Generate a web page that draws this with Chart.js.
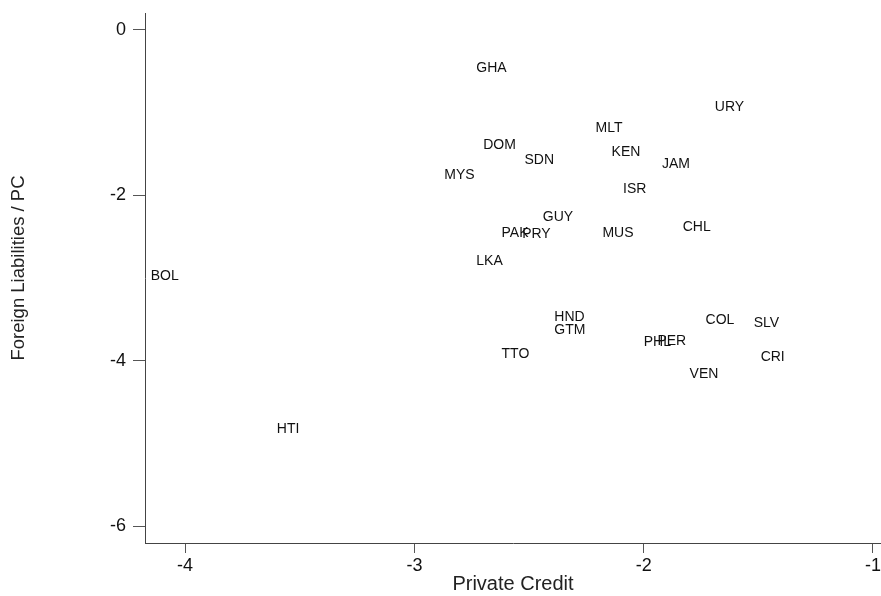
<!DOCTYPE html>
<html>
<head>
<meta charset="utf-8">
<script src="https://cdn.jsdelivr.net/npm/chart.js@4/dist/chart.umd.min.js"></script>
<style>
html,body{margin:0;padding:0;background:#fff;}
#wrap{width:881px;height:596px;position:relative;}
</style>
</head>
<body>
<div id="wrap"><canvas id="c" width="881" height="596"></canvas></div>
<script>
const countries = ["GHA","URY","MLT","DOM","SDN","KEN","JAM","MYS","ISR","GUY","PAK","PRY","MUS","CHL","LKA","BOL","HND","GTM","TTO","PHL","PER","COL","SLV","CRI","VEN","HTI"];
const privateCredit = [-2.73,-1.69,-2.21,-2.70,-2.52,-2.14,-1.92,-2.87,-2.09,-2.44,-2.62,-2.53,-2.18,-1.83,-2.73,-4.15,-2.39,-2.39,-2.62,-2.00,-1.94,-1.73,-1.52,-1.49,-1.80,-3.60];
const foreignLiab = [-0.47,-0.94,-1.19,-1.40,-1.58,-1.48,-1.63,-1.76,-1.93,-2.27,-2.46,-2.47,-2.46,-2.39,-2.80,-2.98,-3.47,-3.63,-3.92,-3.77,-3.76,-3.51,-3.55,-3.96,-4.16,-4.83];
const xTicks = [-4,-3,-2,-1];
const yTicks = [-6,-4,-2,0];
const xTitle = 'Private Credit';
const yTitle = 'Foreign Liabilities / PC';

const points = countries.map((c,i)=>({x:privateCredit[i], y:foreignLiab[i]}));
const FAM = '"Liberation Sans", Arial, sans-serif';

const labelPlugin = {
  id:'labels',
  afterDatasetsDraw(chart){
    const ctx = chart.ctx;
    const meta = chart.getDatasetMeta(0);
    ctx.save();
    ctx.font = '14px ' + FAM;
    ctx.fillStyle = '#111';
    ctx.textAlign = 'left';
    ctx.textBaseline = 'middle';
    meta.data.forEach((el,i)=>{
      ctx.fillText(countries[i], el.x, el.y);
    });
    // y axis title
    ctx.translate(19, 268);
    ctx.rotate(-Math.PI/2);
    ctx.font = '18.5px ' + FAM;
    ctx.fillStyle = '#222';
    ctx.textAlign = 'center';
    ctx.fillText(yTitle, 0, 0);
    ctx.restore();
  }
};

const font = {family:FAM};

new Chart(document.getElementById('c'), {
  type:'scatter',
  data:{datasets:[{data:points, pointRadius:0, pointHoverRadius:0, showLine:false}]},
  options:{
    responsive:false,
    animation:false,
    layout:{padding:{left:0,top:13,right:0,bottom:0}},
    plugins:{legend:{display:false},tooltip:{enabled:false}},
    scales:{
      x:{
        type:'linear', min:-4.175, max:-0.965,
        afterBuildTicks(s){ s.ticks = xTicks.map(v=>({value:v})); },
        afterFit(s){ s.height = 53; s.paddingLeft = 0; s.paddingRight = 0; },
        grid:{display:true, drawOnChartArea:false, drawTicks:true, tickLength:10, color:'#555'},
        border:{display:true, color:'#444', width:1},
        ticks:{color:'#111', font:{...font, size:18}, padding:2},
        title:{display:true, text:xTitle, color:'#222', font:{...font, size:20}, padding:{top:0,bottom:0}}
      },
      y:{
        type:'linear', min:-6.2, max:0.2,
        afterBuildTicks(s){ s.ticks = yTicks.map(v=>({value:v})); },
        afterFit(s){ s.width = 145; s.paddingTop = 0; s.paddingBottom = 0; },
        grid:{display:true, drawOnChartArea:false, drawTicks:true, tickLength:12, color:'#555'},
        border:{display:true, color:'#444', width:1},
        ticks:{color:'#111', font:{...font, size:18}, padding:7},
        title:{display:false}
      }
    }
  },
  plugins:[labelPlugin]
});
</script>
</body>
</html>
